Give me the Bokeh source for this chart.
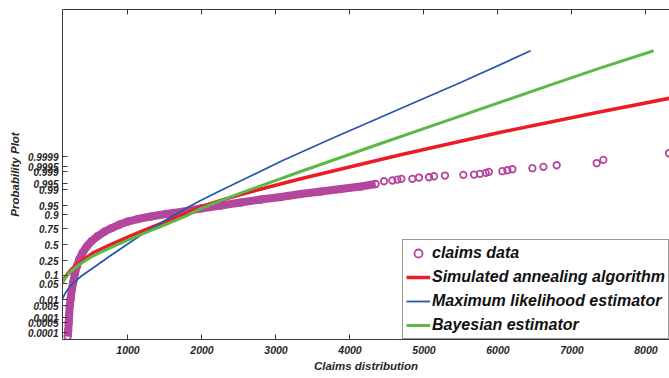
from statistics import NormalDist
from bokeh.plotting import figure
from bokeh.models import FixedTicker, LinearAxis, Legend, LegendItem, Range1d
from bokeh.embed import file_html
from bokeh.resources import INLINE

# ---------------- data (x = claim amount, z = standard normal quantile of plotting position)
claims_dense_x = [185, 192, 199, 205, 212, 226, 239, 259, 280, 307, 341, 388, 442, 509, 591,
                  685, 780, 888, 996, 1131, 1307, 1509, 1712, 1982, 2253, 2523, 2793, 3064,
                  3334, 3604, 3874, 4145, 4347]
claims_dense_z = [-3.876, -3.622, -3.284, -2.946, -2.608, -2.270, -1.932, -1.593, -1.255,
                  -0.917, -0.621, -0.325, -0.072, 0.161, 0.372, 0.562, 0.710, 0.858, 0.985,
                  1.090, 1.196, 1.302, 1.386, 1.534, 1.661, 1.788, 1.915, 2.020, 2.147, 2.253,
                  2.358, 2.464, 2.570]
claims_tail_x = [4460, 4573, 4641, 4695, 4843, 4932, 5068, 5135, 5284, 5532, 5676, 5757, 5834,
                 5878, 6059, 6127, 6195, 6465, 6614, 6793, 7334, 7424, 8311]
claims_tail_z = [2.688, 2.718, 2.760, 2.790, 2.790, 2.844, 2.857, 2.899, 2.929, 2.959, 2.971,
                 3.001, 3.043, 3.085, 3.111, 3.153, 3.195, 3.238, 3.297, 3.364, 3.449, 3.593,
                 3.871]

sa_x = [115, 158, 226, 361, 537, 766, 996, 1239, 1442, 1780, 1982, 2253, 2658, 3334, 4009,
        4685, 6036, 7388, 8320]
sa_z = [-1.581, -1.340, -1.065, -0.706, -0.325, 0.013, 0.330, 0.647, 0.900, 1.323, 1.598,
        1.877, 2.244, 2.794, 3.301, 3.808, 4.759, 5.626, 6.196]

mle_x = [115, 158, 226, 361, 537, 766, 996, 1239, 1442, 1780, 1982, 2253, 2658, 3091, 3739,
         4685, 5496, 6442]
mle_z = [-2.270, -2.016, -1.720, -1.340, -0.960, -0.452, 0.034, 0.541, 0.921, 1.534, 1.872,
         2.295, 2.908, 3.563, 4.472, 5.761, 6.860, 8.200]

bayes_x = [115, 158, 226, 361, 537, 766, 996, 1239, 1442, 1780, 1982, 2253, 2658, 3334,
           4415, 5361, 6712, 7388, 8104]
bayes_z = [-1.581, -1.382, -1.128, -0.790, -0.452, -0.114, 0.203, 0.520, 0.773, 1.217, 1.534,
           1.872, 2.342, 3.098, 4.281, 5.304, 6.762, 7.477, 8.200]

x_ticks = [1000, 2000, 3000, 4000, 5000, 6000, 7000, 8000]
prob_ticks = [0.0001, 0.0005, 0.001, 0.005, 0.01, 0.05, 0.1, 0.25, 0.5, 0.75, 0.9, 0.95,
              0.99, 0.995, 0.999, 0.9995, 0.9999]
prob_labels = ["0.0001", "0.0005", "0.001", "0.005", "0.01", "0.05", "0.1", "0.25", "0.5",
               "0.75", "0.9", "0.95", "0.99", "0.995", "0.999", "0.9995", "0.9999"]

# ---------------- styling
MAG = "#b4479d"
RED = "#ec1c24"
BLUE = "#2a56b0"
GREEN = "#5cb946"
AXC = "#3a3a3a"
FONT = "Liberation Sans"

p = figure(width=669, height=378, output_backend="svg", toolbar_location=None,
           x_range=Range1d(115, 8318), y_range=Range1d(-4.0, 9.945),
           min_border_left=62, min_border_right=0, min_border_top=9, min_border_bottom=39)
p.outline_line_color = None
p.xgrid.visible = False
p.ygrid.visible = False
p.background_fill_color = "white"
p.border_fill_color = "white"

# x axis (bottom)
xa = p.xaxis[0]
xa.ticker = FixedTicker(ticks=x_ticks)
xa.major_tick_in = 5
xa.major_tick_out = 0
xa.minor_tick_line_color = None
xa.axis_line_color = AXC
xa.major_tick_line_color = AXC
xa.major_label_standoff = 6
xa.major_label_text_font = FONT
xa.major_label_text_font_style = "bold italic"
xa.major_label_text_font_size = "10.5px"
xa.major_label_text_color = "#262626"
xa.axis_label = "Claims distribution"
xa.axis_label_text_font = FONT
xa.axis_label_text_font_style = "bold italic"
xa.axis_label_text_font_size = "11.5px"
xa.axis_label_text_color = "#262626"
xa.axis_label_standoff = 3

# y axis (left), probability scale via normal quantiles
nd = NormalDist()
z_ticks = [round(nd.inv_cdf(pv), 6) for pv in prob_ticks]
ya = p.yaxis[0]
ya.ticker = FixedTicker(ticks=z_ticks)
ya.major_label_overrides = {zt: lab for zt, lab in zip(z_ticks, prob_labels)}
ya.major_tick_in = 5
ya.major_tick_out = 0
ya.minor_tick_line_color = None
ya.axis_line_color = AXC
ya.major_tick_line_color = AXC
ya.major_label_standoff = 4
ya.major_label_text_font = FONT
ya.major_label_text_font_style = "bold italic"
ya.major_label_text_font_size = "10px"
ya.major_label_text_color = "#262626"
ya.axis_label = "Probability Plot"
ya.axis_label_text_font = FONT
ya.axis_label_text_font_style = "bold italic"
ya.axis_label_text_font_size = "11.5px"
ya.axis_label_text_color = "#262626"
ya.axis_label_standoff = 4

# top axis: box line with inward ticks, no labels
top = LinearAxis(ticker=FixedTicker(ticks=x_ticks), major_tick_in=5, major_tick_out=0,
                 minor_tick_line_color=None, axis_line_color=AXC, major_tick_line_color=AXC,
                 major_label_overrides={t: "" for t in x_ticks},
                 major_label_text_font_size="1px", major_label_standoff=0)
p.add_layout(top, "above")

# ---------------- glyphs
p.line(claims_dense_x, claims_dense_z, line_width=8, line_color=MAG,
       line_join="round", line_cap="butt")
r_pts = p.scatter(claims_dense_x + claims_tail_x, claims_dense_z + claims_tail_z,
                  marker="circle", size=6.5, fill_color=None, line_color=MAG, line_width=1.8)
r_sa = p.line(sa_x, sa_z, line_width=3.5, line_color=RED)
r_mle = p.line(mle_x, mle_z, line_width=1.8, line_color=BLUE)
r_bay = p.line(bayes_x, bayes_z, line_width=3, line_color=GREEN)

legend = Legend(items=[
    LegendItem(label="claims data", renderers=[r_pts]),
    LegendItem(label="Simulated annealing algorithm", renderers=[r_sa]),
    LegendItem(label="Maximum likelihood estimator", renderers=[r_mle]),
    LegendItem(label="Bayesian estimator", renderers=[r_bay]),
], location=(340, 0), label_text_font=FONT, label_text_font_style="bold italic",
    label_text_font_size="16px", label_text_color="#111111",
    glyph_width=24, glyph_height=20, label_height=20, label_standoff=2,
    spacing=4, padding=3, margin=0, border_line_color="#333333", border_line_width=1,
    background_fill_color="white", background_fill_alpha=1.0)
p.add_layout(legend)

open("out.html", "w").write(file_html(p, INLINE))
